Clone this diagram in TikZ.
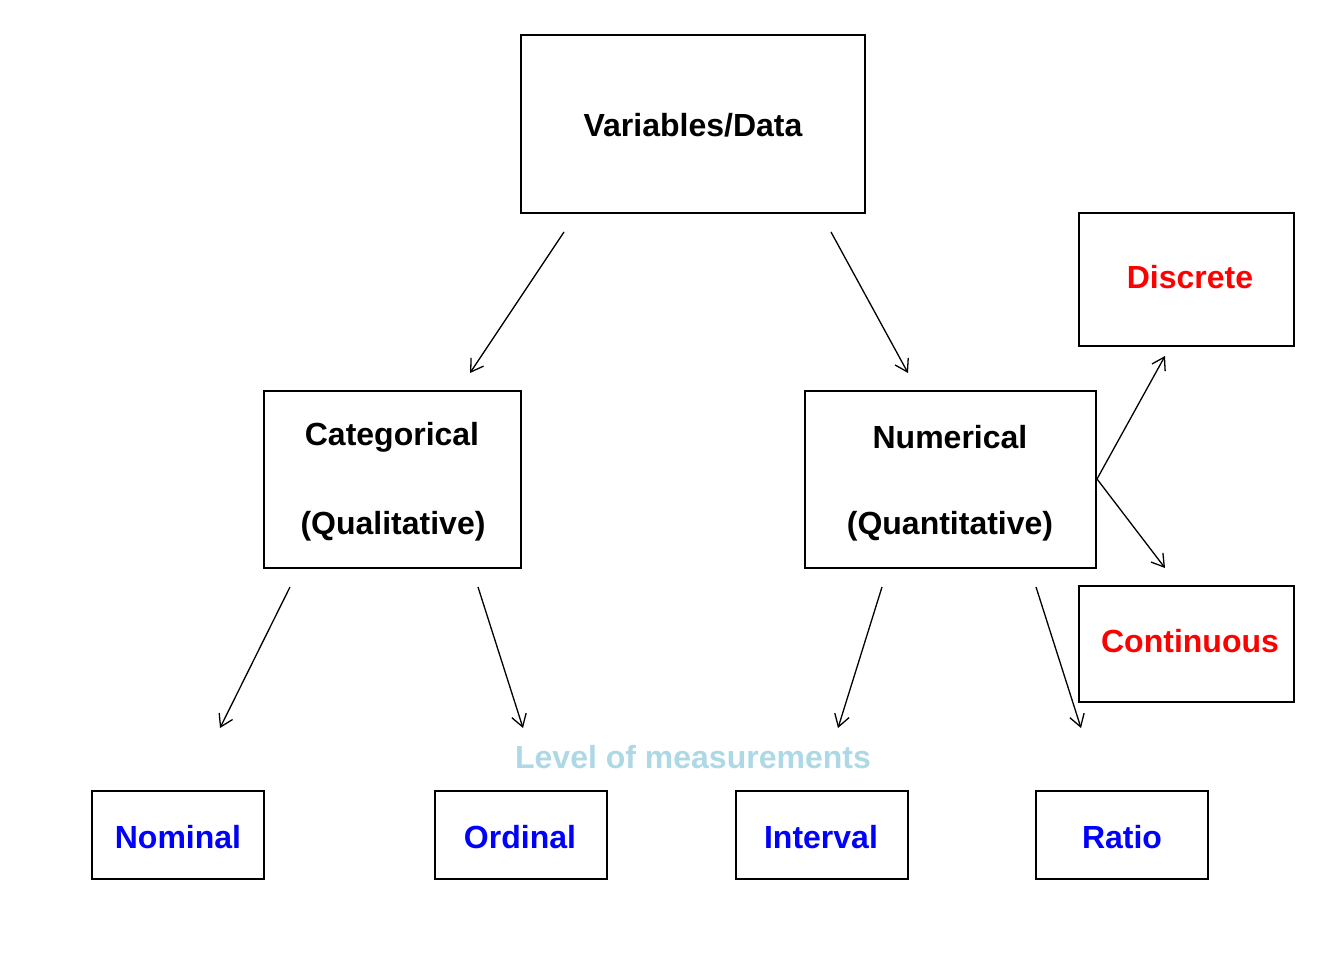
\documentclass[tikz,border=0pt]{standalone}
\usepackage{fontspec}
\setmainfont{Liberation Sans}
\usetikzlibrary{arrows.meta}
\definecolor{lblue}{HTML}{ADD8E6}
\begin{document}
\begin{tikzpicture}[x=1pt,y=-1pt,
  box/.style={draw=black,line width=1.8pt,rectangle,inner sep=0pt},
  lbl/.style={font=\fontsize{32}{38}\selectfont\bfseries,anchor=base,inner sep=0pt},
  arr/.style={line width=1.3pt,-{Straight Barb[length=12pt,width=15pt,line width=1.3pt]}}]
\useasboundingbox (0,0) rectangle (1344,960);
% boxes
\node[box,minimum width=344pt,minimum height=178pt] (vd) at (693,124) {};
\node[box,minimum width=215pt,minimum height=133pt] (disc) at (1186.5,279.5) {};
\node[box,minimum width=257pt,minimum height=177pt] (cat) at (392.5,479.5) {};
\node[box,minimum width=291pt,minimum height=177pt] (num) at (950.5,479.5) {};
\node[box,minimum width=215pt,minimum height=116pt] (cont) at (1186.5,644) {};
\node[box,minimum width=172pt,minimum height=88pt] (nom) at (178,835) {};
\node[box,minimum width=172pt,minimum height=88pt] (ord) at (521,835) {};
\node[box,minimum width=172pt,minimum height=88pt] (int) at (822,835) {};
\node[box,minimum width=172pt,minimum height=88pt] (rat) at (1122,835) {};
% texts
\node[lbl] (tvd) at (693,137) {Variables/Data};
\node[lbl,text=red] (tdisc) at (1190,288) {Discrete};
\node[lbl] (tcat1) at (392,445) {Categorical};
\node[lbl] (tcat2) at (393,534) {(Qualitative)};
\node[lbl] (tnum1) at (950,448) {Numerical};
\node[lbl] (tnum2) at (950,534) {(Quantitative)};
\node[lbl,text=red] (tcont) at (1190,652) {Continuous};
\node[lbl,text=lblue] (tlev) at (693,768) {Level of measurements};
\node[lbl,text=blue] (tnom) at (178,848) {Nominal};
\node[lbl,text=blue] (tord) at (520,848) {Ordinal};
\node[lbl,text=blue] (tint) at (821,848) {Interval};
\node[lbl,text=blue] (trat) at (1122,848) {Ratio};
% arrow endpoints
\coordinate (a1s) at (564,232); \coordinate (a1e) at (470,373);
\coordinate (a2s) at (831,232); \coordinate (a2e) at (908,373);
\coordinate (a3s) at (1097,479); \coordinate (a3e) at (1165,356);
\coordinate (a4e) at (1165,568);
\coordinate (a5s) at (290,587); \coordinate (a5e) at (220,728);
\coordinate (a6s) at (478,587); \coordinate (a6e) at (523,728);
\coordinate (a7s) at (882,587); \coordinate (a7e) at (838,728);
\coordinate (a8s) at (1036,587); \coordinate (a8e) at (1081,728);
\draw[arr] (a1s) -- (a1e);
\draw[arr] (a2s) -- (a2e);
\draw[arr] (a3s) -- (a3e);
\draw[arr] (a3s) -- (a4e);
\draw[arr] (a5s) -- (a5e);
\draw[arr] (a6s) -- (a6e);
\draw[arr] (a7s) -- (a7e);
\draw[arr] (a8s) -- (a8e);
\end{tikzpicture}
\end{document}
